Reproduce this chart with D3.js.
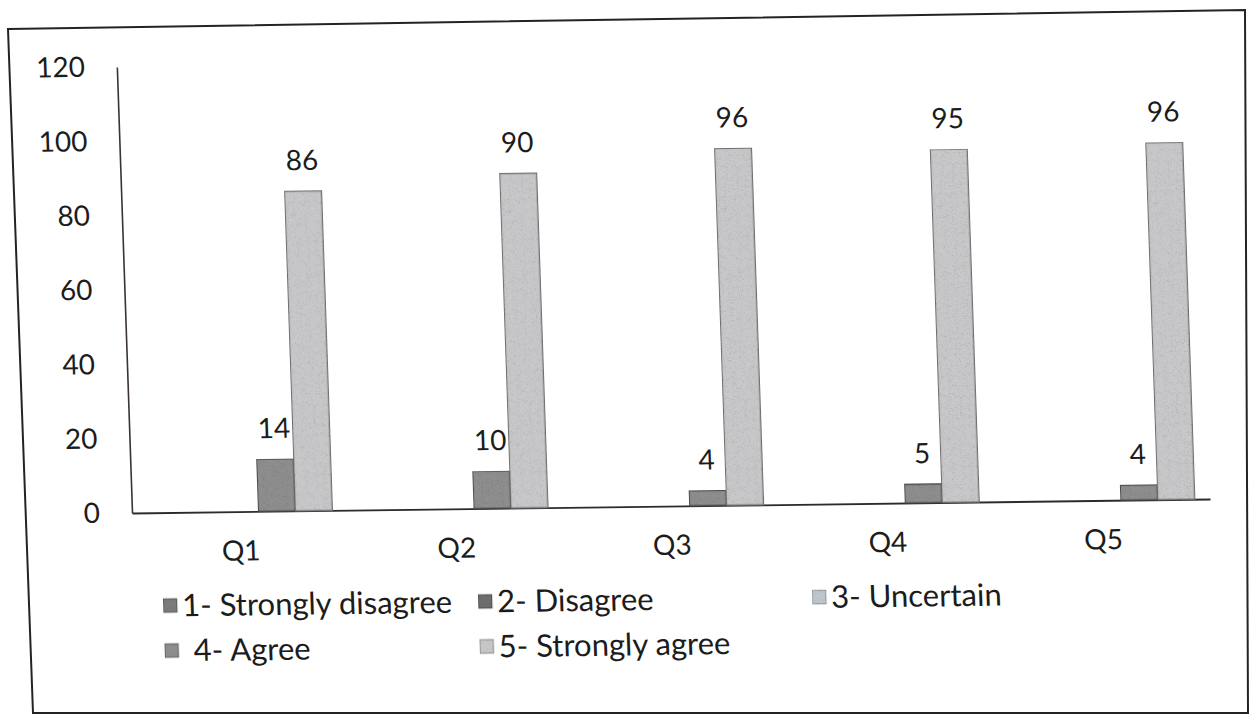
<!DOCTYPE html>
<html>
<head>
<meta charset="utf-8">
<script src="https://cdn.jsdelivr.net/npm/d3@7"></script>
<style>
  html, body { margin: 0; padding: 0; background: #fff; }
  svg { display: block; }
  text { font-family: Lato, "Open Sans", sans-serif; fill: #1c1c1c; }
</style>
</head>
<body>
<svg id="chart" width="1249" height="718"></svg>
<script>
// Survey responses per question (number of respondents)
const categories = ["Q1", "Q2", "Q3", "Q4", "Q5"];
const seriesNames = ["1- Strongly disagree", "2- Disagree", "3- Uncertain", "4- Agree", "5- Strongly agree"];
const stronglyDisagree = [0, 0, 0, 0, 0];
const disagree = [0, 0, 0, 0, 0];
const uncertain = [0, 0, 0, 0, 0];
const agree = [14, 10, 4, 5, 4];
const stronglyAgree = [86, 90, 96, 95, 96];
const yTicks = [0, 20, 40, 60, 80, 100, 120];

const seriesValues = [stronglyDisagree, disagree, uncertain, agree, stronglyAgree];
const series = seriesNames.map((name, i) => ({ name, values: seriesValues[i] }));

const fills = ["#7c7c7c", "#6e6e6e", "#c0c7ce", "#8e8e8e", "#c8c8ca"];
const strokes = ["#444", "#3c3c3c", "#7a8088", "#4a4a4a", "#707070"];

const svg = d3.select("#chart");

// grainy toner texture for the filled shapes
const defs = svg.append("defs");
const grain = defs.append("filter").attr("id", "grain")
  .attr("x", 0).attr("y", 0).attr("width", "100%").attr("height", "100%");
grain.append("feTurbulence").attr("type", "fractalNoise")
  .attr("baseFrequency", 1.1).attr("numOctaves", 2).attr("seed", 7).attr("result", "noise");
grain.append("feColorMatrix").attr("in", "noise").attr("type", "matrix")
  .attr("values", "0.33 0.33 0.33 0 0  0.33 0.33 0.33 0 0  0.33 0.33 0.33 0 0  0 0 0 0 1")
  .attr("result", "gray");
const ct = grain.append("feComponentTransfer").attr("in", "gray").attr("result", "tone");
["feFuncR", "feFuncG", "feFuncB"].forEach(f =>
  ct.append(f).attr("type", "linear").attr("slope", 1.7).attr("intercept", 0.18));
grain.append("feBlend").attr("in", "SourceGraphic").attr("in2", "tone").attr("mode", "multiply").attr("result", "mix");
grain.append("feComposite").attr("in", "mix").attr("in2", "SourceGraphic").attr("operator", "in");

// outer frame of the chart area
const framePts = [[8, 29], [1245, 10], [1248, 713], [33, 713]];
svg.append("path")
  .attr("d", d3.line()(framePts) + "Z")
  .attr("fill", "none").attr("stroke", "#232323").attr("stroke-width", 2);

// plot geometry
const plotLeft = 132, plotRight = 1210, plotTop = 67, plotBottom = 513;

// the printed page is slightly sheared; the whole chart is drawn through it
const shx = 0.034, shy = -0.013;
const g = svg.append("g")
  .attr("transform", `matrix(1, ${shy}, ${shx}, 1, ${-shx * plotBottom}, ${-shy * plotLeft})`);

const x0 = d3.scaleBand().domain(categories).range([plotLeft, plotRight]).paddingInner(0).paddingOuter(0);
const x1 = d3.scaleBand().domain(seriesNames).range([0, x0.bandwidth()]).paddingInner(0).paddingOuter(0.41);
const y = d3.scaleLinear().domain([0, 120]).range([plotBottom, plotTop]);

// y axis
const yAxis = g.append("g").attr("transform", `translate(${plotLeft},0)`)
  .call(d3.axisLeft(y).tickValues(yTicks).tickSize(0).tickSizeOuter(0).tickPadding(32));
yAxis.select(".domain").attr("stroke", "#3a3236").attr("stroke-width", 1.6);
yAxis.selectAll("text").attr("font-size", 28).attr("font-family", "Lato").attr("fill", "#1c1c1c");

// x axis
const xAxis = g.append("g").attr("transform", `translate(0,${plotBottom})`)
  .call(d3.axisBottom(x0).tickSize(0).tickSizeOuter(0).tickPadding(29));
xAxis.select(".domain").attr("stroke", "#2e2a2c").attr("stroke-width", 1.8);
xAxis.selectAll("text").attr("font-size", 28).attr("font-family", "Lato").attr("fill", "#1c1c1c");

// bars
const groups = g.selectAll("g.cat").data(categories).join("g")
  .attr("class", "cat")
  .attr("transform", d => `translate(${x0(d)},0)`);

groups.selectAll("rect").data((d, ci) => series.map((s, si) => ({ s, si, v: s.values[ci] })))
  .join("rect")
  .attr("x", d => x1(d.s.name))
  .attr("width", x1.bandwidth())
  .attr("y", d => y(d.v))
  .attr("height", d => y(0) - y(d.v))
  .attr("fill", d => fills[d.si])
  .attr("stroke", d => strokes[d.si])
  .attr("stroke-width", 1.4)
  .attr("filter", "url(#grain)");

// value labels (only non-zero values are labelled)
groups.selectAll("text.val").data((d, ci) => series.map((s, si) => ({ s, si, v: s.values[ci] })).filter(d => d.v > 0))
  .join("text")
  .attr("class", "val")
  .attr("x", d => x1(d.s.name) + x1.bandwidth() / 2)
  .attr("y", d => y(d.v) - 21)
  .attr("text-anchor", "middle")
  .attr("font-size", 28)
  .text(d => d.v);

// legend: two rows
const legendCols = [160, 475, 809];
const legendRows = [606, 651];
const legendPos = [[0, 0], [1, 0], [2, 0], [0, 1], [1, 1]];
const legend = g.selectAll("g.leg").data(series).join("g")
  .attr("class", "leg")
  .attr("transform", (d, i) => `translate(${legendCols[legendPos[i][0]]},${legendRows[legendPos[i][1]]})`);
legend.append("rect")
  .attr("x", 0).attr("y", -7).attr("width", 14).attr("height", 14)
  .attr("fill", (d, i) => fills[i]).attr("stroke", (d, i) => strokes[i]).attr("stroke-width", 1)
  .attr("filter", "url(#grain)");
legend.append("text")
  .attr("x", (d, i) => i === 3 ? 29 : 19)
  .attr("dy", "0.35em")
  .attr("font-size", 31)
  .text(d => d.name);
</script>
</body>
</html>
